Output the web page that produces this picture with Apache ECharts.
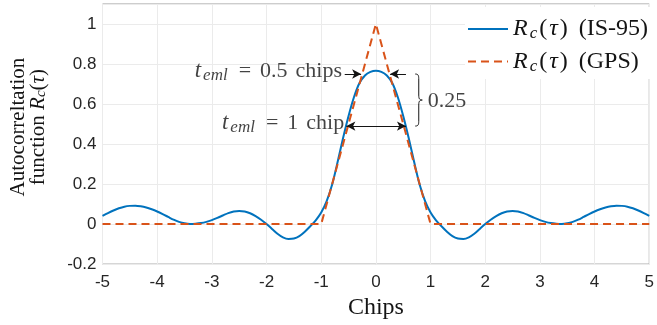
<!DOCTYPE html>
<html>
<head>
<meta charset="utf-8">
<script src="https://cdn.jsdelivr.net/npm/echarts@6/dist/echarts.min.js"></script>
<style>
  html, body { margin: 0; padding: 0; background: #fff; }
  #main { width: 657px; height: 325px; }
</style>
</head>
<body>
<div id="main"></div>
<script>
// sample positions (chips) and autocorrelation values
const chips = [
  -5, -4.9, -4.8, -4.7, -4.6, -4.5, -4.4, -4.3, -4.2, -4.1, -4, -3.9, -3.8, -3.7, -3.6, -3.5, -3.4, -3.3, -3.2, -3.1,
  -3, -2.9, -2.8, -2.7, -2.6, -2.5, -2.4, -2.3, -2.2, -2.1, -2, -1.9, -1.8, -1.7, -1.6, -1.5, -1.4, -1.3, -1.2, -1.1,
  -1, -0.9, -0.8, -0.7, -0.6, -0.5, -0.4, -0.3, -0.2, -0.1, 0,
  0.1, 0.2, 0.3, 0.4, 0.5, 0.6, 0.7, 0.8, 0.9, 1, 1.1, 1.2, 1.3, 1.4, 1.5, 1.6, 1.7, 1.8, 1.9, 2,
  2.1, 2.2, 2.3, 2.4, 2.5, 2.6, 2.7, 2.8, 2.9, 3, 3.1, 3.2, 3.3, 3.4, 3.5, 3.6, 3.7, 3.8, 3.9, 4,
  4.1, 4.2, 4.3, 4.4, 4.5, 4.6, 4.7, 4.8, 4.9, 5
];
const is95 = [
  0.041, 0.055, 0.068, 0.079, 0.087, 0.091, 0.092, 0.089, 0.083, 0.074, 0.063, 0.050, 0.036, 0.022, 0.011, 0.004, 0.001, 0.002, 0.005, 0.011,
  0.020, 0.031, 0.043, 0.055, 0.063, 0.066, 0.063, 0.054, 0.040, 0.022, 0.0, -0.024, -0.048, -0.066, -0.074, -0.072, -0.060, -0.038, -0.011, 0.019,
  0.058, 0.115, 0.198, 0.310, 0.430, 0.540, 0.635, 0.705, 0.743, 0.761, 0.767,
  0.761, 0.743, 0.705, 0.635, 0.540, 0.430, 0.310, 0.198, 0.115, 0.058, 0.019, -0.011, -0.038, -0.060, -0.072, -0.074, -0.066, -0.048, -0.024, 0.0,
  0.022, 0.040, 0.054, 0.063, 0.066, 0.063, 0.055, 0.043, 0.031, 0.020, 0.011, 0.005, 0.002, 0.001, 0.004, 0.011, 0.022, 0.036, 0.050, 0.063,
  0.074, 0.083, 0.089, 0.092, 0.091, 0.087, 0.079, 0.068, 0.055, 0.041
];
const gpsChips = [-5, -1, 0, 1, 5];
const gps = [0, 0, 1, 0, 0];

// annotations (data coordinates)
const halfChipArrows = [[[-0.57, 0.75], [-0.27, 0.75]], [[0.55, 0.75], [0.26, 0.75]]];
const oneChipArrow = [[-0.54, 0.49], [0.55, 0.49]];
const bracePos = [0.72, 0.75, 0.49];
const notes = [
  { at: [-0.62, 0.765], text: '{t|t}{s|eml}{e|=}{d|0.5}{n|chips}', side: 'left' },
  { at: [-0.58, 0.505], text: '{t|t}{s|eml}{e|=}{d|1}{n|chip}', side: 'left' },
  { at: [0.95, 0.615], text: '{n|0.25}', side: 'right' }
];

const serif = '"Liberation Serif", "DejaVu Serif", serif';
const sans = '"Liberation Sans", Arial, sans-serif';
const ink = '#141414';

const rich = {
  n: { fontFamily: serif, fontSize: 22, color: ink, lineHeight: 26 },
  d: { fontFamily: serif, fontSize: 22, color: ink, lineHeight: 26, padding: [0, 8, 0, 0] },
  t: { fontFamily: serif, fontStyle: 'italic', fontSize: 23, color: ink, lineHeight: 26, padding: [0, 1, 0, 0] },
  e: { fontFamily: serif, fontSize: 22, color: ink, lineHeight: 26, padding: [0, 9, 0, 9] },
  s: { fontFamily: serif, fontStyle: 'italic', fontSize: 17, color: ink, lineHeight: 13, verticalAlign: 'bottom', padding: [0, 2, 0, 1] }
};
const legendRich = {
  n: { fontFamily: serif, fontSize: 24, color: ink, lineHeight: 27 },
  i: { fontFamily: serif, fontStyle: 'italic', fontSize: 24, color: ink, lineHeight: 27, padding: [0, 2, 0, 0] },
  u: { fontFamily: serif, fontStyle: 'italic', fontSize: 24, color: ink, lineHeight: 27, padding: [0, 2, 0, 2] },
  s: { fontFamily: serif, fontStyle: 'italic', fontSize: 17, color: ink, lineHeight: 13, verticalAlign: 'bottom', padding: [0, 2, 0, 0] },
  g: { fontFamily: serif, fontSize: 24, color: ink, lineHeight: 27, padding: [0, 0, 0, 11] }
};
const nameRich = {
  n: { fontFamily: serif, fontSize: 21, color: ink, lineHeight: 20 },
  i: { fontFamily: serif, fontStyle: 'italic', fontSize: 21, color: ink, lineHeight: 20 },
  s: { fontFamily: serif, fontStyle: 'italic', fontSize: 15, color: ink, lineHeight: 12, verticalAlign: 'bottom' }
};

const chart = echarts.init(document.getElementById('main'));

chart.setOption({
  animation: false,
  grid: {
    left: 96, right: 1, top: 4, bottom: 57,
    show: true, borderColor: '#9a9a9a', borderWidth: 1, backgroundColor: 'transparent'
  },
  legend: {
    data: ['IS-95', 'GPS'],
    orient: 'vertical',
    left: 465, top: 7,
    itemWidth: 40, itemHeight: 14, itemGap: 7,
    itemStyle: { opacity: 0 },
    backgroundColor: '#fff',
    padding: [10, 6, 4, 2],
    formatter: function (name) {
      return '{i|R}{s|c}{n|(}{u|τ}{n|)}{g|(' + name + ')}';
    },
    textStyle: { rich: legendRich }
  },
  xAxis: {
    type: 'value',
    min: -5, max: 5, interval: 1,
    name: 'Chips',
    nameLocation: 'middle',
    nameGap: 27,
    nameTextStyle: { fontFamily: serif, fontSize: 24, color: ink },
    axisLine: { show: false },
    axisTick: { show: false },
    axisLabel: { fontFamily: sans, fontSize: 17, color: '#262626', margin: 10 },
    splitLine: { show: true, lineStyle: { color: '#ebebeb', width: 1 } }
  },
  yAxis: {
    type: 'value',
    min: -0.2, max: 1.1, interval: 0.2,
    name: '{n|Autocorreltation}\n{n|function }{i|R}{s|c}{n|(}{i|τ}{n|)}',
    nameLocation: 'middle',
    nameGap: 54,
    nameRotate: 90,
    nameTextStyle: { rich: nameRich, align: 'center', padding: [0, 0, 0, 14] },
    axisLine: { show: false },
    axisTick: { show: false },
    axisLabel: {
      fontFamily: sans, fontSize: 17, color: '#262626', margin: 6,
      formatter: function (v) { return v > 1.05 ? '' : String(+v.toFixed(1)); }
    },
    splitLine: { show: true, lineStyle: { color: '#ebebeb', width: 1 } }
  },
  series: [
    {
      name: 'IS-95',
      type: 'line',
      data: chips.map((c, k) => [c, is95[k]]),
      smooth: 0.3,
      showSymbol: false,
      symbol: 'none',
      lineStyle: { color: '#0072BD', width: 2 },
      itemStyle: { color: '#0072BD' },
      z: 3,
      markLine: {
        silent: true,
        animation: false,
        label: { show: false },
        lineStyle: { color: ink, width: 1, type: 'solid' },
        symbolSize: [7, 9],
        data: [
          [{ coord: halfChipArrows[0][0], symbol: 'none' }, { coord: halfChipArrows[0][1], symbol: 'arrow' }],
          [{ coord: halfChipArrows[1][0], symbol: 'none' }, { coord: halfChipArrows[1][1], symbol: 'arrow' }],
          [{ coord: oneChipArrow[0], symbol: 'arrow' }, { coord: oneChipArrow[1], symbol: 'arrow' }]
        ]
      }
    },
    {
      name: 'GPS',
      type: 'line',
      data: gpsChips.map((c, k) => [c, gps[k]]),
      showSymbol: false,
      symbol: 'none',
      lineStyle: { color: '#D95319', width: 2, type: [8, 5] },
      itemStyle: { color: '#D95319' },
      z: 4
    },
    {
      name: 'notes',
      type: 'scatter',
      symbolSize: 0,
      silent: true,
      z: 5,
      data: notes.map(n => ({
        value: n.at,
        label: {
          show: true,
          position: n.side,
          distance: 0,
          formatter: n.text,
          rich: rich
        }
      }))
    },
    {
      name: 'brace',
      type: 'custom',
      silent: true,
      z: 5,
      data: [bracePos],
      encode: { x: 0, y: [1, 2] },
      renderItem: function (params, api) {
        const top = api.coord([api.value(0), api.value(1)]);
        const bot = api.coord([api.value(0), api.value(2)]);
        const x = top[0], t = top[1], b = bot[1], m = (t + b) / 2, w = 7, h = w / 2;
        const d = 'M' + x + ',' + t +
          ' C' + (x + h) + ',' + t + ' ' + (x + h) + ',' + (t + 2) + ' ' + (x + h) + ',' + (t + 6) +
          ' L' + (x + h) + ',' + (m - 5) +
          ' C' + (x + h) + ',' + (m - 1) + ' ' + (x + h + 1) + ',' + m + ' ' + (x + w) + ',' + m +
          ' C' + (x + h + 1) + ',' + m + ' ' + (x + h) + ',' + (m + 1) + ' ' + (x + h) + ',' + (m + 5) +
          ' L' + (x + h) + ',' + (b - 6) +
          ' C' + (x + h) + ',' + (b - 2) + ' ' + (x + h) + ',' + b + ' ' + x + ',' + b;
        return {
          type: 'path',
          shape: { pathData: d },
          style: { fill: null, stroke: ink, lineWidth: 1 }
        };
      }
    }
  ]
});
</script>
</body>
</html>
